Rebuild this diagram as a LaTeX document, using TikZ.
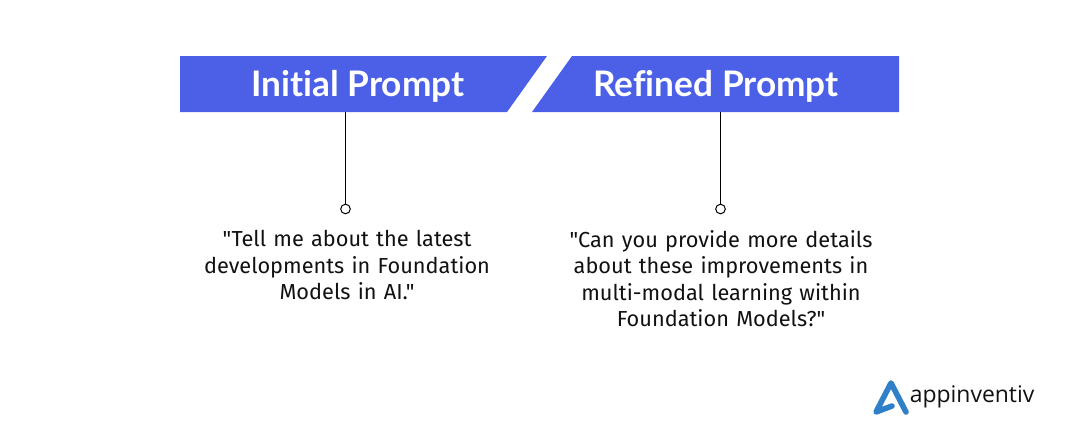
\documentclass[tikz,border=0pt]{standalone}
\usepackage{fontspec}
\setmainfont{Lato}[Ligatures=NoCommon]
\newfontfamily\bodyfont{Fira Sans}
\newfontfamily\logofont{Open Sans}
\definecolor{bannerblue}{HTML}{4B60E6}
\definecolor{logoblue}{HTML}{2F80C8}
\definecolor{inktext}{HTML}{111111}

\begin{document}
\begin{tikzpicture}[
		x=0.75pt, y=-0.75pt,
		banner/.style = {fill=bannerblue},
		title/.style = {text=white, font=\fontsize{26.4}{30}\selectfont\bfseries, inner sep=0pt},
		stem/.style = {draw=black, line width=0.75pt},
		dot/.style = {shape=circle, draw=black, fill=white, line width=0.75pt, minimum size=7.2pt, inner sep=0pt},
		prompt/.style = {align=center, text width=300pt, anchor=north, text=inktext, inner sep=0pt,
			font=\bodyfont\fontsize{16.3}{19.9}\selectfont}]
		\useasboundingbox (0,0) rectangle (1080,446);
		% banners
		\fill[banner] (180,56) -- (547,56) -- (507,112) -- (180,112) -- cycle;
		\fill[banner] (572,56) -- (899,56) -- (899,112) -- (532,112) -- cycle;
		\node[title] (initial) at (358,86) {Initial Prompt};
		\node[title] (refined) at (716,86) {Refined Prompt};
		% stems
		\coordinate (initialfoot) at (345.5,112);
		\coordinate (refinedfoot) at (720.5,112);
		\node[dot] (initialdot) at (345.5,209) {};
		\node[dot] (refineddot) at (720.5,209) {};
		\draw[stem] (initialfoot) -- (initialdot);
		\draw[stem] (refinedfoot) -- (refineddot);
		% texts
		\node[prompt] (initialtext) at (347,230) {"Tell me about the latest\\developments in Foundation\\Models in AI."};
		\node[prompt] (refinedtext) at (721,230) {"Can you provide more details\\about these improvements in\\multi-modal learning within\\Foundation Models?"};
		% logo
		\draw[logoblue, line width=4.2pt, line cap=round, line join=round]
			(892,406) -- (876,412) -- (891,383) -- (906,412);
		\node[anchor=west, inner sep=0pt, text=inktext, font=\logofont\fontsize{17.2}{20}\selectfont] (logotext) at (909.5,397) {appinventiv};
\end{tikzpicture}
\end{document}
